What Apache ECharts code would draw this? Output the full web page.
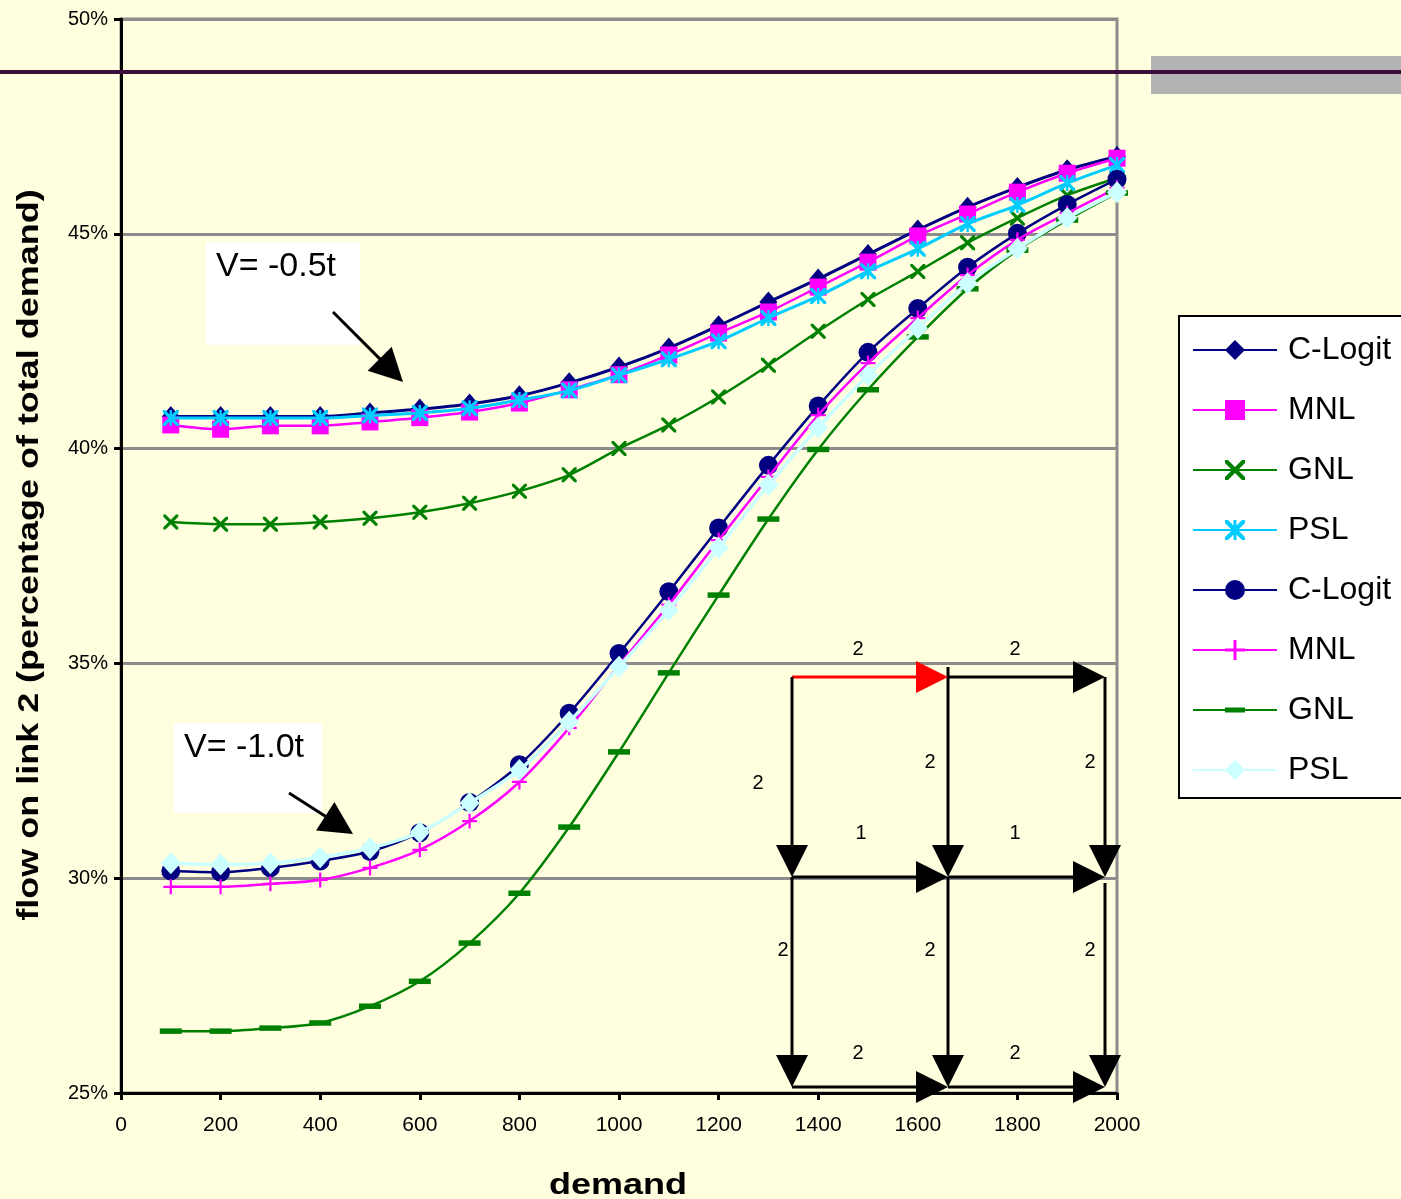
<!DOCTYPE html>
<html>
<head>
<meta charset="utf-8">
<script src="https://cdn.jsdelivr.net/npm/echarts@6/dist/echarts.min.js"></script>
<style>
html,body{margin:0;padding:0;background:#FFFFE0;}
#chart{width:1401px;height:1199px;}
</style>
</head>
<body>
<div id="chart"></div>
<script>
// ---- data ----
const demand = [100,200,300,400,500,600,700,800,900,1000,1100,1200,1300,1400,1500,1600,1700,1800,1900,2000];
const xTicks = [0,200,400,600,800,1000,1200,1400,1600,1800,2000];
const yTicks = [25,30,35,40,45,50];

// V = -0.5t
const clogitA = [40.75,40.75,40.75,40.75,40.83,40.92,41.04,41.23,41.53,41.90,42.34,42.86,43.41,43.95,44.52,45.09,45.62,46.08,46.49,46.80];
const mnlA    = [40.55,40.45,40.53,40.53,40.62,40.72,40.85,41.06,41.37,41.72,42.18,42.69,43.18,43.76,44.34,44.95,45.46,45.97,46.41,46.76];
const gnlA    = [38.29,38.24,38.24,38.29,38.38,38.52,38.73,39.01,39.39,40.00,40.55,41.20,41.94,42.73,43.47,44.12,44.79,45.37,45.90,46.30];
const pslA    = [40.71,40.71,40.71,40.71,40.77,40.83,40.94,41.13,41.35,41.71,42.08,42.50,43.04,43.55,44.13,44.65,45.23,45.67,46.18,46.60];
// V = -1.0t
const clogitB = [30.17,30.14,30.24,30.40,30.62,31.06,31.76,32.64,33.84,35.23,36.67,38.15,39.61,40.99,42.24,43.26,44.22,45.01,45.68,46.27];
const mnlB    = [29.80,29.80,29.87,29.96,30.24,30.66,31.33,32.24,33.50,34.96,36.37,37.87,39.34,40.78,41.99,43.04,44.04,44.86,45.48,46.07];
const gnlB    = [26.44,26.44,26.51,26.63,27.02,27.60,28.49,29.65,31.19,32.94,34.78,36.59,38.36,39.98,41.37,42.60,43.72,44.62,45.32,45.95];
const pslB    = [30.35,30.32,30.35,30.49,30.70,31.07,31.75,32.52,33.64,34.92,36.24,37.69,39.15,40.49,41.71,42.80,43.85,44.65,45.37,45.97];

const seriesNames = ['C-Logit','MNL','GNL','PSL','C-Logit','MNL','GNL','PSL'];
const groupTags = ['V=-0.5t','V=-0.5t','V=-0.5t','V=-0.5t','V=-1.0t','V=-1.0t','V=-1.0t','V=-1.0t'];

const xTitle = 'demand';
const yTitle = 'flow on link 2 (percentage of total demand)';
const annotA = 'V= -0.5t';
const annotB = 'V= -1.0t';

// network diagram link costs
const linkLabels = ['2','2','2','2','2','1','1','2','2','2','2','2'];

// ---- styling ----
const FONT = '"Liberation Sans", Arial, Helvetica, sans-serif';
const FONT_N = '"Liberation Sans Narrow", "Arial Narrow", "Liberation Sans", Arial, sans-serif';
const SYM_X = 'path://M0,0 L3,0 L10,7 L17,0 L20,0 L20,3 L13,10 L20,17 L20,20 L17,20 L10,13 L3,20 L0,20 L0,17 L7,10 L0,3 Z';
const SYM_AST = 'path://M0,0 L3,0 L10,7 L17,0 L20,0 L20,3 L13,10 L20,17 L20,20 L17,20 L10,13 L3,20 L0,20 L0,17 L7,10 L0,3 Z M8.5,0 L11.5,0 L11.5,20 L8.5,20 Z';
const SYM_PLUS = 'path://M8.5,0 L11.5,0 L11.5,8.5 L20,8.5 L20,11.5 L11.5,11.5 L11.5,20 L8.5,20 L8.5,11.5 L0,11.5 L0,8.5 L8.5,8.5 Z';
const SYM_DASH = 'path://M0,0 M20,20 M0,7.5 L20,7.5 L20,12.5 L0,12.5 Z';

const styles = [
  {color:'#000080', symbol:'diamond', size:[18,21], width:3},
  {color:'#FF00FF', symbol:'rect', size:17, width:2.5},
  {color:'#008000', symbol:SYM_X, size:15, width:2.5},
  {color:'#00CCFF', symbol:SYM_AST, size:16, width:3},
  {color:'#000080', symbol:'circle', size:19, width:2.5},
  {color:'#FF00FF', symbol:SYM_PLUS, size:15, width:2.5},
  {color:'#008000', symbol:SYM_DASH, size:22, width:2.5},
  {color:'#CCFFFF', symbol:'diamond', size:[20,22], width:3.5}
];
const seriesData = [clogitA, mnlA, gnlA, pslA, clogitB, mnlB, gnlB, pslB];

const series = seriesData.map((vals, i) => ({
  name: seriesNames[i] + ' (' + groupTags[i] + ')',
  type: 'line',
  data: demand.map((d, j) => [d, vals[j]]),
  smooth: 0.3,
  symbol: styles[i].symbol,
  symbolSize: styles[i].size,
  showAllSymbol: true,
  lineStyle: {color: styles[i].color, width: styles[i].width},
  itemStyle: {color: styles[i].color, opacity: 1},
  emphasis: {disabled: true},
  animation: false,
  z: 2 + i
}));

// ---- decorations (annotation, network diagram) ----
function arrow(x1, y1, x2, y2, color, lw, hl, hw) {
  const dx = x2 - x1, dy = y2 - y1, L = Math.hypot(dx, dy);
  const ux = dx / L, uy = dy / L;
  const bx = x2 - ux * hl, by = y2 - uy * hl;
  return [
    {type:'line', shape:{x1:x1, y1:y1, x2:bx + ux*2, y2:by + uy*2}, style:{stroke:color, lineWidth:lw}, z:50},
    {type:'polygon', shape:{points:[[x2,y2],[bx - uy*hw, by + ux*hw],[bx + uy*hw, by - ux*hw]]}, style:{fill:color}, z:51}
  ];
}

const colX = [792, 948, 1105];
const rowY = [677, 877, 1087];
let net = [];
net = net.concat(arrow(colX[0], rowY[0], colX[1], rowY[0], '#FF0000', 3, 32, 16));
net = net.concat(arrow(colX[1], rowY[0], colX[2], rowY[0], '#000', 3, 32, 16));
net = net.concat(arrow(colX[0], rowY[0], colX[0], rowY[1], '#000', 3, 32, 16));
net = net.concat(arrow(colX[1], rowY[0] - 10, colX[1], rowY[1], '#000', 3, 32, 16));
net = net.concat(arrow(colX[2], rowY[0], colX[2], rowY[1], '#000', 3, 32, 16));
net = net.concat(arrow(colX[0], rowY[1], colX[1], rowY[1], '#000', 3, 32, 16));
net = net.concat(arrow(colX[1], rowY[1], colX[2], rowY[1], '#000', 3, 32, 16));
net = net.concat(arrow(colX[0], rowY[1], colX[0], rowY[2], '#000', 3, 32, 16));
net = net.concat(arrow(colX[1], rowY[1], colX[1], rowY[2], '#000', 3, 32, 16));
net = net.concat(arrow(colX[2], rowY[1] + 6, colX[2], rowY[2], '#000', 3, 32, 16));
net = net.concat(arrow(colX[0], rowY[2], colX[1], rowY[2], '#000', 3, 32, 16));
net = net.concat(arrow(colX[1], rowY[2], colX[2], rowY[2], '#000', 3, 32, 16));

const labelPos = [[858,649],[1015,649],[758,783],[930,762],[1090,762],[861,833],[1015,833],[783,950],[930,950],[1090,950],[858,1053],[1015,1053]];
labelPos.forEach((p, i) => {
  net.push({type:'text', x:p[0], y:p[1], z:52,
    style:{text:linkLabels[i], font:'20px ' + FONT, fill:'#000', textAlign:'center', textVerticalAlign:'middle'}});
});

const graphics = [
  {type:'rect', shape:{x:1151, y:56, width:250, height:38}, style:{fill:'#B3B3B3'}, z:40},
  {type:'line', shape:{x1:0, y1:72, x2:1401, y2:72}, style:{stroke:'#3D0C3D', lineWidth:4}, z:60},
  // annotation V=-0.5t
  {type:'rect', shape:{x:206, y:242, width:154, height:103}, style:{fill:'#FFFFFF'}, z:45},
  {type:'text', x:216, y:267, z:46, style:{text:annotA, font:'34px ' + FONT, fill:'#000', textVerticalAlign:'middle'}},
  // annotation V=-1.0t
  {type:'rect', shape:{x:174, y:723, width:148, height:90}, style:{fill:'#FFFFFF'}, z:45},
  {type:'text', x:184, y:748, z:46, style:{text:annotB, font:'34px ' + FONT, fill:'#000', textVerticalAlign:'middle'}},
  // axis titles
  {type:'text', x:618, y:1186, z:46, scaleX:1.2,
    style:{text:xTitle, font:'bold 30px ' + FONT, fill:'#000', textAlign:'center', textVerticalAlign:'middle'}},
  {type:'text', x:30, y:555, z:46, rotation:Math.PI/2, scaleX:1.24,
    style:{text:yTitle, font:'bold 29px ' + FONT, fill:'#000', textAlign:'center', textVerticalAlign:'middle'}}
].concat(arrow(333, 312, 403, 382, '#000', 3, 33, 17))
 .concat(arrow(289, 793, 353, 834, '#000', 3, 33, 17))
 .concat(net);

const chart = echarts.init(document.getElementById('chart'), null, {renderer:'canvas'});
chart.setOption({
  backgroundColor: '#FFFFE0',
  animation: false,
  textStyle: {fontFamily: FONT},
  grid: {left:121, right:284, top:19, bottom:106, show:true, backgroundColor:'#FFFFE0', borderColor:'#8C8C8C', borderWidth:3},
  xAxis: {
    type:'value', min:xTicks[0], max:xTicks[xTicks.length-1], interval:xTicks[1]-xTicks[0],
    axisLine:{lineStyle:{color:'#000', width:3}},
    axisTick:{show:true, length:7, lineStyle:{color:'#000', width:3}},
    axisLabel:{fontSize:21, color:'#000', margin:22, fontFamily:FONT_N, formatter: v => String(v)},
    splitLine:{show:false}
  },
  yAxis: {
    type:'value', min:yTicks[0], max:yTicks[yTicks.length-1], interval:yTicks[1]-yTicks[0],
    axisLine:{show:true, lineStyle:{color:'#000', width:3}},
    axisTick:{show:true, length:7, lineStyle:{color:'#000', width:3}},
    axisLabel:{fontSize:20, color:'#000', margin:13, formatter: v => v + '%', fontFamily:FONT},
    splitLine:{show:true, lineStyle:{color:'#8C8C8C', width:3}}
  },
  legend: {
    orient:'vertical', left:1179, top:316,
    padding:[18, 80, 12, 13],
    itemWidth:84, itemHeight:25, itemGap:28,
    backgroundColor:'#FFFFFF', borderColor:'#000', borderWidth:2, borderRadius:0,
    textStyle:{fontSize:32, color:'#000', fontFamily:FONT, padding:[0,0,0,6]},
    formatter: name => name.replace(/ \(.*\)$/, ''),
    selectedMode:false,
    data: series.map(s => s.name)
  },
  series: series,
  graphic: {elements: graphics}
});
</script>
</body>
</html>
